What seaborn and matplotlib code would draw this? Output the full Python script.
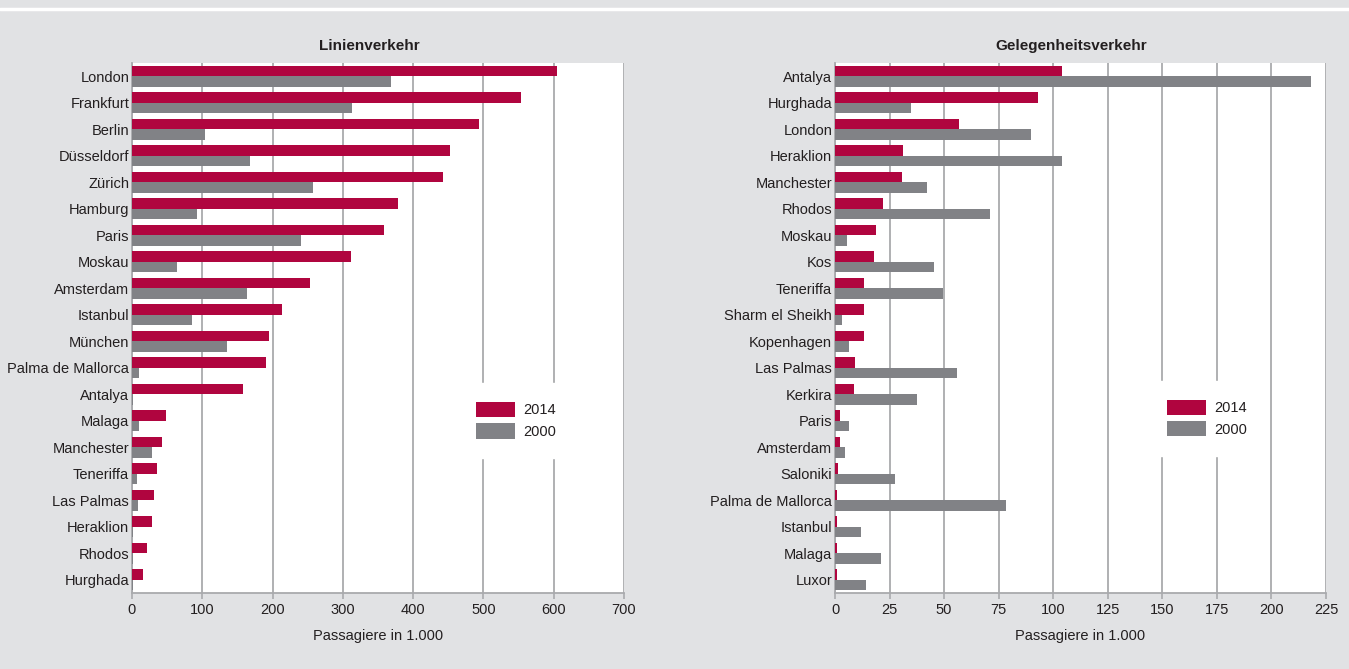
import matplotlib
matplotlib.use("Agg")
import matplotlib.pyplot as plt
from matplotlib.lines import Line2D
import seaborn as sns
import pandas as pd

# ---------------- data ----------------
linien_cities = ["London", "Frankfurt", "Berlin", "Düsseldorf", "Zürich", "Hamburg",
                 "Paris", "Moskau", "Amsterdam", "Istanbul", "München",
                 "Palma de Mallorca", "Antalya", "Malaga", "Manchester", "Teneriffa",
                 "Las Palmas", "Heraklion", "Rhodos", "Hurghada"]
linien_2014 = [605, 554, 494, 453, 443, 378, 359, 311, 253, 214, 195,
               191, 158, 48, 43, 35, 31, 28, 22, 16]
linien_2000 = [369, 313, 104, 168, 258, 93, 240, 64, 163, 86, 135,
               10, 2, 10, 28, 7, 9, 2, 1, 1]

gelegen_cities = ["Antalya", "Hurghada", "London", "Heraklion", "Manchester", "Rhodos",
                  "Moskau", "Kos", "Teneriffa", "Sharm el Sheikh", "Kopenhagen",
                  "Las Palmas", "Kerkira", "Paris", "Amsterdam", "Saloniki",
                  "Palma de Mallorca", "Istanbul", "Malaga", "Luxor"]
gelegen_2014 = [104, 93, 57, 31, 30.5, 22, 18.6, 18, 13.4, 13.1, 13.1,
                9.3, 8.9, 2.5, 2.5, 1.5, 1.1, 1.1, 0.8, 0.8]
gelegen_2000 = [218, 35, 90, 104, 42, 71, 5.3, 45.5, 49.3, 3.4, 6.3,
                55.7, 37.7, 6.6, 4.7, 27.7, 78.4, 11.7, 21.2, 14.4]

years = ["2014", "2000"]
titles = ["Linienverkehr", "Gelegenheitsverkehr"]
xlabel = "Passagiere in 1.000"
left_ticks = [0, 100, 200, 300, 400, 500, 600, 700]
right_ticks = [0, 25, 50, 75, 100, 125, 150, 175, 200, 225]

# ---------------- style ----------------
BG = "#e1e2e4"
RED = "#b0053f"
GRAY = "#818286"
GRID = "#a9aaad"
TXT = "#231f20"

sns.set_theme(style="white")
plt.rcParams["font.family"] = ["Liberation Sans Narrow", "Liberation Sans", "DejaVu Sans"]
plt.rcParams["font.size"] = 10.5


def long_df(cities, v14, v00):
    return pd.DataFrame({
        "Stadt": cities * 2,
        "Wert": list(v14) + list(v00),
        "Jahr": [years[0]] * len(cities) + [years[1]] * len(cities),
    })


W, H = 1349, 669
fig = plt.figure(figsize=(W / 100, H / 100), dpi=100, facecolor=BG)

# white separator line near the top
fig.add_artist(Line2D([0, 1], [1 - 9 / H, 1 - 9 / H], color="white", lw=2.5,
                      transform=fig.transFigure))

ax_l = fig.add_axes([132 / W, 1 - 593 / H, (624 - 132) / W, (593 - 63) / H])
ax_r = fig.add_axes([835 / W, 1 - 593 / H, (1326 - 835) / W, (593 - 63) / H])

specs = [
    (ax_l, long_df(linien_cities, linien_2014, linien_2000), linien_cities, titles[0],
     (0, 700), left_ticks, (0.78, 0.326)),
    (ax_r, long_df(gelegen_cities, gelegen_2014, gelegen_2000), gelegen_cities, titles[1],
     (0, 225), right_ticks, (0.758, 0.33)),
]

for ax, df, order, title, xlim, ticks, leg_pos in specs:
    ax.set_facecolor("white")
    sns.barplot(data=df, x="Wert", y="Stadt", hue="Jahr", order=order,
                hue_order=years, palette=[RED, GRAY], orient="h",
                width=0.8, saturation=1, ax=ax, zorder=3, linewidth=0)
    ax.set_xlim(*xlim)
    ax.set_xticks(ticks)
    ax.set_xticklabels([str(t) for t in ticks])
    ax.set_ylim(len(order) - 0.5, -0.5)
    ax.grid(axis="x", color=GRID, lw=1.3, zorder=0)
    ax.grid(axis="y", visible=False)
    ax.set_axisbelow(True)
    for s in ["top", "right"]:
        ax.spines[s].set_visible(False)
    for s in ["left", "bottom"]:
        ax.spines[s].set_color(GRID)
        ax.spines[s].set_linewidth(1.3)
    ax.tick_params(axis="y", length=0, pad=2, labelsize=10.5, labelcolor=TXT)
    ax.tick_params(axis="x", length=4, width=1.2, color=GRID, pad=3.5,
                   labelsize=10.5, labelcolor=TXT, bottom=True)
    ax.set_ylabel("")
    ax.set_xlabel(xlabel, fontsize=10.5, color=TXT, labelpad=8.5)
    ax.set_title(title, fontsize=11, fontweight="bold", color=TXT, pad=9.5, x=0.482)
    leg = ax.legend(loc="center", bbox_to_anchor=leg_pos, frameon=True,
                    fancybox=False, facecolor="white", edgecolor="white",
                    framealpha=1, fontsize=10.5, handlelength=2.7,
                    handleheight=1.25, handletextpad=0.55, labelspacing=0.4,
                    borderpad=1.3, borderaxespad=0)
    leg.set_zorder(5)
    for t in leg.get_texts():
        t.set_color(TXT)

fig.savefig("out.png", dpi=100, facecolor=BG)
